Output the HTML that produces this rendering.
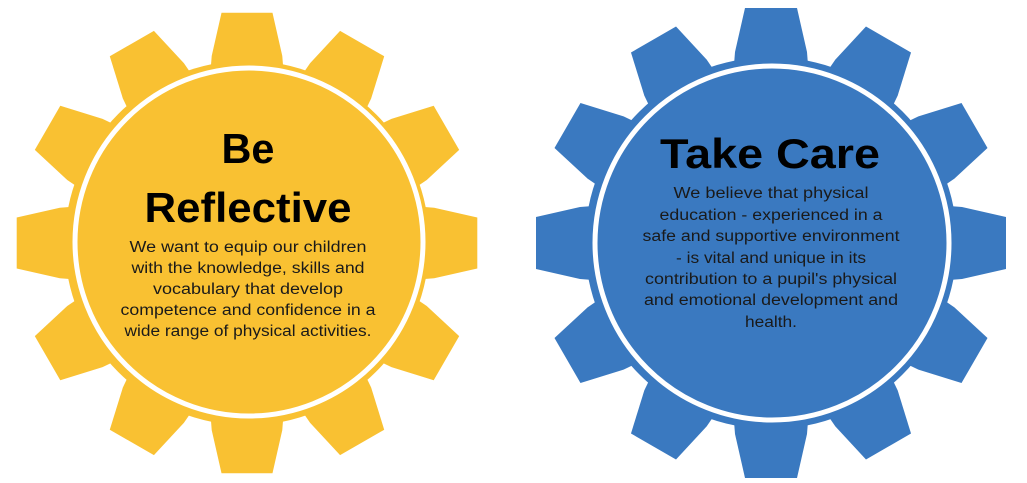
<!DOCTYPE html>
<html><head><meta charset="utf-8"><style>
html,body{margin:0;padding:0;background:#fff;}
svg{display:block;}
.t{font-family:"Liberation Sans",sans-serif;font-weight:bold;fill:#000;}
.b{font-family:"Liberation Sans",sans-serif;fill:#1a1a1a;font-size:15.5px;}
</style></head><body>
<svg width="1027" height="483" viewBox="0 0 1027 483" xmlns="http://www.w3.org/2000/svg">
<defs>
<polygon id="tooth" points="-37,-178 -36,-191 -26,-235 26,-235 36,-191 37,-178"/>
<g id="gear">
<circle r="186"/>
<use href="#tooth" transform="rotate(0)"/><use href="#tooth" transform="rotate(30)"/><use href="#tooth" transform="rotate(60)"/><use href="#tooth" transform="rotate(90)"/><use href="#tooth" transform="rotate(120)"/><use href="#tooth" transform="rotate(150)"/><use href="#tooth" transform="rotate(180)"/><use href="#tooth" transform="rotate(210)"/><use href="#tooth" transform="rotate(240)"/><use href="#tooth" transform="rotate(270)"/><use href="#tooth" transform="rotate(300)"/><use href="#tooth" transform="rotate(330)"/>
</g>
</defs>
<g transform="translate(247,243) scale(0.98)" fill="#F9C132"><use href="#gear"/></g>
<circle cx="249" cy="242" r="174" fill="none" stroke="#fff" stroke-width="5"/>
<g transform="translate(771,243)" fill="#3A79C0"><use href="#gear"/></g>
<circle cx="772" cy="243" r="177" fill="none" stroke="#fff" stroke-width="5"/>

<text class="t" x="248" y="163" font-size="42" text-anchor="middle" textLength="53" lengthAdjust="spacingAndGlyphs">Be</text>
<text class="t" x="248" y="222" font-size="42" text-anchor="middle" textLength="207" lengthAdjust="spacingAndGlyphs">Reflective</text>
<text class="b" x="248" y="252" text-anchor="middle" textLength="237" lengthAdjust="spacingAndGlyphs">We want to equip our children</text>
<text class="b" x="248" y="273" text-anchor="middle" textLength="233" lengthAdjust="spacingAndGlyphs">with the knowledge, skills and</text>
<text class="b" x="248" y="294" text-anchor="middle" textLength="190" lengthAdjust="spacingAndGlyphs">vocabulary that develop</text>
<text class="b" x="248" y="315" text-anchor="middle" textLength="255" lengthAdjust="spacingAndGlyphs">competence and confidence in a</text>
<text class="b" x="248" y="336" text-anchor="middle" textLength="247" lengthAdjust="spacingAndGlyphs">wide range of physical activities.</text>

<text class="t" x="770" y="168" font-size="42" text-anchor="middle" textLength="220" lengthAdjust="spacingAndGlyphs">Take Care</text>
<text class="b" x="771" y="198" text-anchor="middle" textLength="195" lengthAdjust="spacingAndGlyphs">We believe that physical</text>
<text class="b" x="771" y="220" text-anchor="middle" textLength="223" lengthAdjust="spacingAndGlyphs">education - experienced in a</text>
<text class="b" x="771" y="241" text-anchor="middle" textLength="257" lengthAdjust="spacingAndGlyphs">safe and supportive environment</text>
<text class="b" x="771" y="263" text-anchor="middle" textLength="190" lengthAdjust="spacingAndGlyphs">- is vital and unique in its</text>
<text class="b" x="771" y="284" text-anchor="middle" textLength="252" lengthAdjust="spacingAndGlyphs">contribution to a pupil's physical</text>
<text class="b" x="771" y="305" text-anchor="middle" textLength="254" lengthAdjust="spacingAndGlyphs">and emotional development and</text>
<text class="b" x="771" y="327" text-anchor="middle" textLength="52" lengthAdjust="spacingAndGlyphs">health.</text>
</svg>
</body></html>
